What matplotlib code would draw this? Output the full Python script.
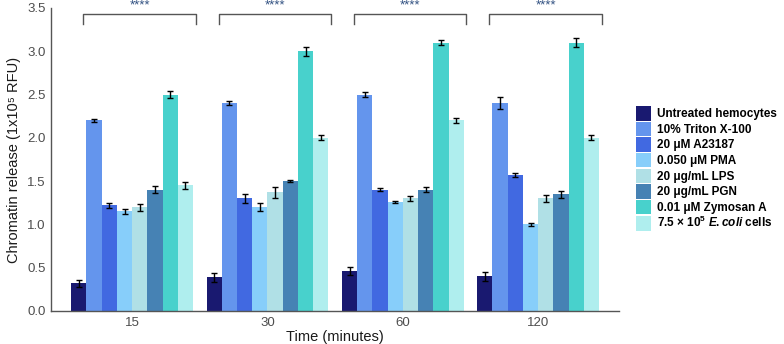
import matplotlib.pyplot as plt
import numpy as np
from matplotlib.patches import Patch

plt.rcParams['font.family'] = ['Liberation Sans', 'DejaVu Sans']
plt.rcParams['mathtext.fontset'] = 'custom'
plt.rcParams['mathtext.rm'] = 'Liberation Sans:bold'
plt.rcParams['mathtext.it'] = 'Liberation Sans:italic:bold'

# time points
times = ["15", "30", "60", "120"]

# treatments
treatments = ["Untreated hemocytes", "10% Triton X-100", "20 \u03bcM A23187",
              "0.050 \u03bcM PMA", "20 \u03bcg/mL LPS", "20 \u03bcg/mL PGN",
              "0.01 \u03bcM Zymosan A", "7.5 \u00d7 10$^5$ $\\it{E. coli}$ cells"]
colors = ["#191970", "#6495ED", "#4169E1", "#87CEFA", "#B0E0E6", "#4682B4",
          "#48D1CC", "#AFEEEE"]

# means, one list per treatment (15, 30, 60, 120 min)
untreated = [0.32, 0.39, 0.46, 0.40]
triton = [2.20, 2.40, 2.50, 2.40]
a23187 = [1.22, 1.30, 1.40, 1.57]
pma = [1.15, 1.20, 1.26, 1.00]
lps = [1.20, 1.37, 1.30, 1.30]
pgn = [1.40, 1.50, 1.40, 1.35]
zymosan = [2.50, 3.00, 3.10, 3.10]
ecoli = [1.45, 2.00, 2.20, 2.00]

# error bars
untreated_err = [0.04, 0.05, 0.05, 0.05]
triton_err = [0.02, 0.02, 0.03, 0.07]
a23187_err = [0.03, 0.05, 0.02, 0.02]
pma_err = [0.03, 0.05, 0.01, 0.02]
lps_err = [0.04, 0.06, 0.03, 0.04]
pgn_err = [0.04, 0.01, 0.03, 0.04]
zymosan_err = [0.04, 0.05, 0.03, 0.05]
ecoli_err = [0.04, 0.03, 0.03, 0.03]

means = [untreated, triton, a23187, pma, lps, pgn, zymosan, ecoli]
errs = [untreated_err, triton_err, a23187_err, pma_err, lps_err, pgn_err,
        zymosan_err, ecoli_err]

fig = plt.figure(figsize=(7.84, 3.44), dpi=100)
ax = fig.add_axes([0.065, 0.096, 0.725, 0.881])

x = np.arange(len(times))
width = 0.9 / len(treatments)
for i in range(len(treatments)):
    pos = x - 0.45 + width * (i + 0.5)
    ax.bar(pos, means[i], width, color=colors[i])
    ax.errorbar(pos, means[i], yerr=errs[i], fmt="none", ecolor="black",
                elinewidth=1, capsize=2.5, capthick=1)

# significance brackets
for xi in x:
    ax.plot([xi - 0.36, xi - 0.36, xi + 0.47, xi + 0.47],
            [3.31, 3.43, 3.43, 3.31], color="#555555", lw=1, clip_on=False)
    ax.text(xi + 0.055, 3.46, "****", ha="center", va="bottom", fontsize=9.5,
            color="#2F4F80", clip_on=False)

ax.set_xlim(-0.6, 3.6)
ax.set_ylim(0, 3.5)
ax.set_xticks(x)
ax.set_xticklabels(times)
ax.set_yticks(np.arange(0, 3.51, 0.5))
ax.set_yticklabels(["%.1f" % v for v in np.arange(0, 3.51, 0.5)])
ax.tick_params(length=0, labelsize=9.5, colors="#4d4d4d", pad=4)
ax.set_xlabel("Time (minutes)", fontsize=10.5, color="#1a1a1a", labelpad=1)
ax.set_ylabel("Chromatin release (1x10\u2075 RFU)", fontsize=10.5,
              color="#1a1a1a", labelpad=4)
for s in ["top", "right"]:
    ax.spines[s].set_visible(False)
for s in ["left", "bottom"]:
    ax.spines[s].set_color("#555555")
    ax.spines[s].set_linewidth(1)

handles = [Patch(facecolor=c, edgecolor="none") for c in colors]
leg = fig.legend(handles, treatments, loc="upper left",
                 bbox_to_anchor=(0.805, 0.705), frameon=False,
                 prop={"weight": "bold", "size": 8.5},
                 handlelength=1.3, handleheight=1.5, handletextpad=0.5,
                 labelspacing=0.1, borderaxespad=0)

fig.savefig("out.png", dpi=100)
